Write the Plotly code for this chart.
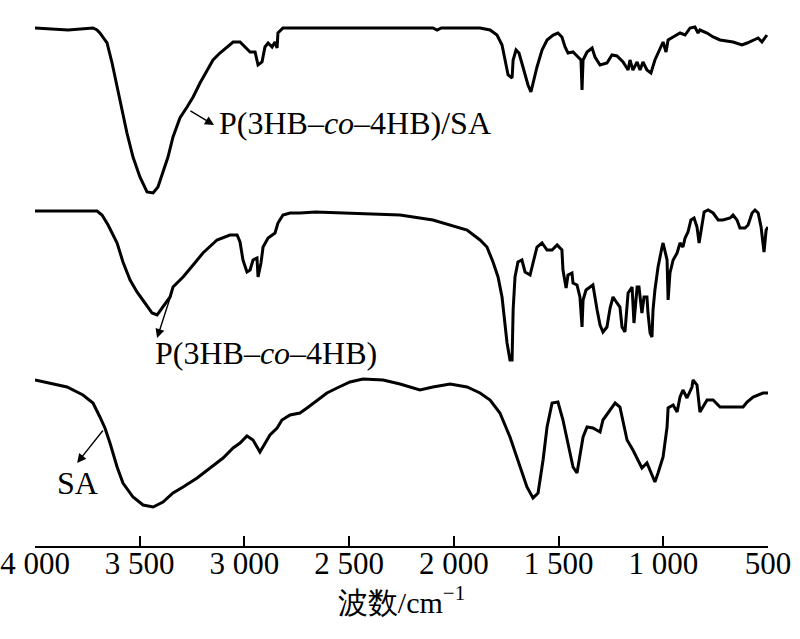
import plotly.graph_objects as go

# ---------------- data ----------------
wn_top = [4000, 3842, 3723, 3704, 3690, 3656, 3632, 3608, 3585, 3561, 3532, 3499, 3465, 3436,
          3413, 3389, 3365, 3341, 3308, 3274, 3245, 3212, 3179, 3150, 3117, 3069, 3054, 3021,
          2997, 2973, 2949, 2935, 2916, 2902, 2887, 2868, 2854, 2844, 2840, 2816, 2100, 2080,
          2060, 1875, 1827, 1794, 1770, 1756, 1741, 1722, 1717, 1703, 1689, 1670, 1646, 1632,
          1622, 1603, 1579, 1555, 1526, 1503, 1484, 1469, 1455, 1431, 1407, 1393, 1388, 1383,
          1364, 1340, 1326, 1302, 1269, 1245, 1221, 1192, 1168, 1159, 1145, 1125, 1111, 1097,
          1078, 1059, 1040, 1016, 1001, 987, 977, 953, 920, 896, 872, 849, 834, 825, 791, 762,
          729, 667, 624, 600, 571, 547, 529, 505]
t_top = [518, 516, 518, 516, 513, 503, 483, 459, 436, 413, 389, 369, 354, 353,
         359, 373, 389, 409, 428, 439, 449, 463, 476, 486, 493, 501, 504, 504,
         499, 494, 494, 481, 484, 499, 503, 499, 504, 498, 513, 518, 518, 516,
         518, 518, 516, 511, 501, 486, 471, 468, 486, 496, 493, 479, 461, 454,
         463, 479, 496, 506, 511, 513, 509, 499, 493, 494, 489, 486, 456, 486,
         494, 498, 489, 481, 483, 491, 490, 484, 476, 486, 476, 484, 476, 484,
         476, 473, 486, 498, 504, 494, 506, 509, 513, 511, 518, 519, 513, 516, 513, 509,
         506, 504, 501, 503, 506, 508, 504, 511]

wn_mid = [4000, 3704, 3680, 3651, 3608, 3580, 3546, 3513, 3475, 3441, 3417, 3389, 3355, 3341,
          3293, 3245, 3198, 3131, 3069, 3035, 3021, 3007, 2988, 2973, 2959, 2940, 2935, 2921,
          2911, 2887, 2854, 2840, 2816, 2782, 2735, 2660, 2257, 2100, 1937, 1875, 1842, 1813,
          1789, 1770, 1760, 1746, 1732, 1722, 1717, 1708, 1694, 1675, 1660, 1636, 1622, 1603,
          1579, 1555, 1531, 1507, 1484, 1479, 1464, 1455, 1436, 1431, 1412, 1398, 1388, 1383,
          1369, 1350, 1336, 1316, 1302, 1288, 1269, 1254, 1240, 1221, 1207, 1197, 1183, 1168,
          1149, 1140, 1125, 1116, 1102, 1092, 1078, 1073, 1063, 1054, 1049, 1040, 1025, 1006,
          1001, 982, 977, 968, 953, 934, 920, 906, 896, 882, 868, 853, 839, 829, 815, 805, 786,
          762, 738, 715, 681, 667, 648, 634, 610, 595, 576, 562, 547, 533, 524, 519, 509, 500]
t_mid = [335, 335, 331, 321, 303, 284, 266, 254, 243, 233, 231, 239, 249, 259,
         269, 281, 293, 306, 311, 311, 304, 286, 274, 276, 286, 288, 269, 283,
         299, 308, 313, 323, 331, 333, 333, 334, 331, 326, 316, 306, 299, 284,
         269, 249, 229, 203, 186, 186, 236, 269, 284, 286, 274, 271, 283, 299,
         303, 296, 296, 301, 296, 276, 258, 271, 273, 263, 261, 249, 219, 246,
         256, 259, 261, 236, 221, 214, 219, 238, 249, 243, 239, 219, 214, 253,
         259, 223, 259, 259, 233, 249, 249, 233, 213, 209, 236, 256, 279, 299,
         303, 286, 246, 273, 286, 293, 303, 299, 308, 314, 326, 328, 319, 303, 323, 334, 336,
         333, 326, 326, 328, 331, 326, 318, 318, 321, 333, 336, 333, 319, 303, 294, 316, 319]

wn_bot = [4000, 3928, 3847, 3771, 3723, 3690, 3666, 3642, 3608, 3580, 3532, 3484, 3436, 3389,
          3341, 3293, 3226, 3164, 3102, 3054, 3021, 2988, 2959, 2926, 2902, 2878, 2844, 2821,
          2782, 2735, 2701, 2653, 2606, 2558, 2496, 2434, 2338, 2257, 2162, 2100, 2018, 1937,
          1875, 1827, 1780, 1732, 1694, 1651, 1622, 1598, 1574, 1555, 1531, 1503, 1479, 1455,
          1431, 1412, 1398, 1383, 1364, 1336, 1302, 1288, 1264, 1230, 1207, 1192, 1173, 1145,
          1121, 1102, 1078, 1063, 1040, 1025, 1001, 982, 977, 953, 934, 920, 906, 887, 863,
          858, 839, 825, 810, 791, 762, 729, 667, 619, 600, 571, 524, 500]
t_bot = [166, 163, 159, 151, 143, 129, 118, 103, 79, 63, 49, 41, 39, 44,
         53, 59, 68, 78, 88, 98, 103, 110, 106, 94, 103, 111, 118, 126,
         131, 133, 138, 146, 153, 158, 164, 167, 166, 162, 156, 159, 162, 159,
         153, 146, 133, 109, 86, 59, 48, 53, 86, 119, 143, 144, 126, 103,
         79, 73, 89, 109, 119, 118, 114, 126, 133, 143, 139, 123, 106, 96,
         86, 78, 83, 76, 64, 73, 89, 119, 138, 141, 134, 149, 156, 148, 159,
         166, 161, 134, 139, 146, 146, 139, 139, 139, 144, 149, 153, 153]

tick_vals = [4000, 3500, 3000, 2500, 2000, 1500, 1000, 500]
tick_text = ["4 000", "3 500", "3 000", "2 500", "2 000", "1 500", "1 000", "500"]

label_text = ["P(3HB–<i>co</i>–4HB)/SA", "P(3HB–<i>co</i>–4HB)", "SA"]
label_x = [3131, 3436, 3904]
label_y = [423, 193, 63]
arrow_head_x = [3145, 3417, 3799]
arrow_head_y = [421, 208, 83]
arrow_tail_x = [3265, 3346, 3670]
arrow_tail_y = [436, 254, 117]

# ---------------- figure ----------------
fig = go.Figure()
line_style = dict(color="black", width=3)
for wn, t in [(wn_top, t_top), (wn_mid, t_mid), (wn_bot, t_bot)]:
    fig.add_trace(go.Scatter(x=wn, y=t, mode="lines", line=line_style,
                             showlegend=False, hoverinfo="skip"))

serif = "'Liberation Serif', 'Times New Roman', Times, serif"

for i in range(3):
    fig.add_annotation(x=label_x[i], y=label_y[i], text=label_text[i], showarrow=False,
                       xanchor="left", yanchor="middle",
                       font=dict(family=serif, size=32, color="black"))
    fig.add_annotation(x=arrow_head_x[i], y=arrow_head_y[i], ax=arrow_tail_x[i],
                       ay=arrow_tail_y[i], axref="x", ayref="y", text="",
                       showarrow=True, arrowhead=2, arrowsize=1.3, arrowwidth=1.4,
                       arrowcolor="black")

fig.update_layout(
    width=800, height=639,
    margin=dict(l=35, r=32, t=0, b=93, autoexpand=False),
    paper_bgcolor="white", plot_bgcolor="white",
    font=dict(family=serif, color="black"),
    xaxis=dict(range=[4000, 500], tickvals=tick_vals, ticktext=tick_text,
               ticks="inside", ticklen=10, tickwidth=2, tickcolor="black",
               showline=True, linecolor="black", linewidth=2,
               showgrid=False, zeroline=False, automargin=False,
               ticklabelstandoff=-11,
               tickfont=dict(family=serif, size=31, color="black"),
               title=dict(text="波数/cm<sup>−1</sup>",
                          font=dict(family=serif, size=30, color="black"),
                          standoff=6)),
    yaxis=dict(range=[0, 546], visible=False, showgrid=False, zeroline=False,
               automargin=False),
)

fig.write_html("out.html", post_script="document.body.style.margin='0';",
               config={"displayModeBar": False, "staticPlot": True})
